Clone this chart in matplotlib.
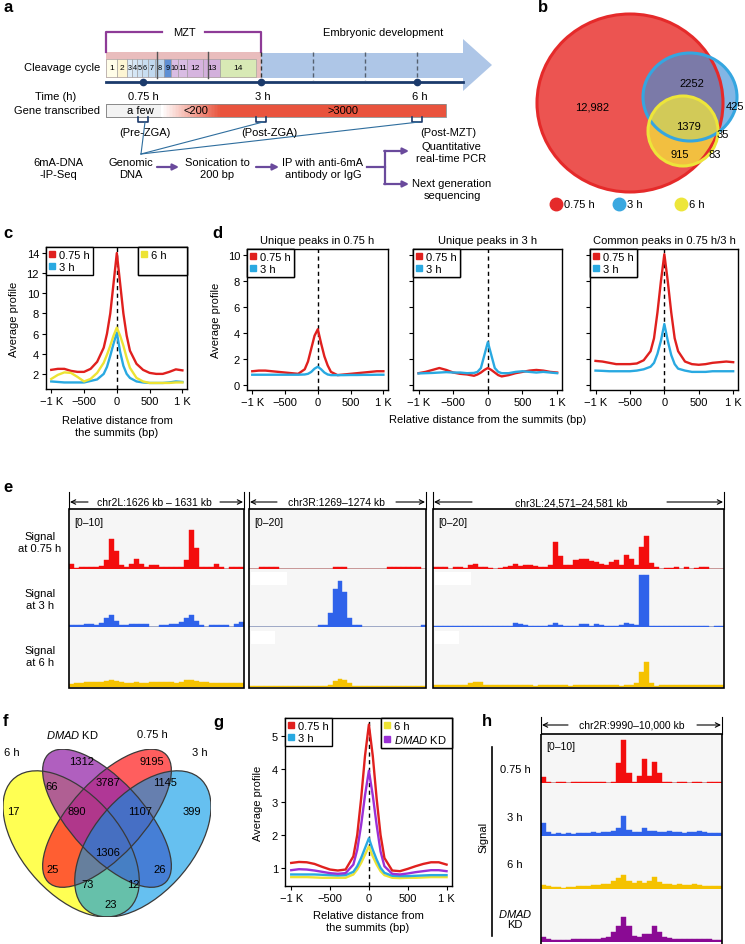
import numpy as np
import matplotlib
matplotlib.use('Agg')
import matplotlib.pyplot as plt
from matplotlib.patches import Rectangle, Ellipse, Polygon
from matplotlib.lines import Line2D

plt.rcParams['font.family'] = ['Liberation Sans', 'DejaVu Sans']
plt.rcParams['mathtext.fontset'] = 'custom'
plt.rcParams['mathtext.it'] = 'Liberation Sans:italic'
plt.rcParams['mathtext.rm'] = 'Liberation Sans'
plt.rcParams['font.size'] = 8

# ---------------------------------------------------------------- DATA
DIST = [-1000, -900, -800, -700, -600, -500, -400, -300, -200, -150, -100, -50, 0,
        50, 100, 150, 200, 300, 400, 500, 600, 700, 800, 900, 1000]
XTICKS = [-1000, -500, 0, 500, 1000]
XTICKLABELS = ['\u22121 K', '\u2212500', '0', '500', '1 K']

# panel c
C_075 = [2.4, 2.5, 2.5, 2.3, 2.2, 2.2, 2.5, 3.2, 4.6, 6.0, 8.0, 11.0, 14.0,
         11.0, 8.0, 5.8, 4.3, 3.0, 2.4, 2.1, 2.0, 2.0, 2.2, 2.45, 2.35]
C_3 = [1.25, 1.2, 1.15, 1.15, 1.15, 1.15, 1.3, 1.45, 2.0, 2.7, 3.8, 5.0, 6.1,
       4.2, 2.8, 2.0, 1.6, 1.25, 1.15, 1.1, 1.1, 1.1, 1.15, 1.25, 1.2]
C_6 = [1.5, 1.9, 2.15, 2.1, 1.7, 1.25, 1.5, 2.1, 3.1, 3.9, 4.8, 5.8, 6.6,
       5.8, 4.8, 3.6, 2.6, 1.6, 1.25, 1.1, 1.1, 1.1, 1.1, 1.15, 1.15]

# panel d
D_TITLES = ['Unique peaks in 0.75 h', 'Unique peaks in 3 h', 'Common peaks in 0.75 h/3 h']
D1_075 = [1.05, 1.1, 1.1, 1.05, 1.0, 0.95, 0.9, 0.85, 1.2, 1.8, 2.8, 3.8, 4.3,
          3.2, 2.2, 1.5, 1.0, 0.75, 0.8, 0.85, 0.9, 0.95, 1.0, 1.05, 1.05]
D1_3 = [0.78, 0.78, 0.78, 0.78, 0.78, 0.78, 0.78, 0.78, 0.8, 0.85, 1.0, 1.25, 1.4,
        1.2, 0.95, 0.8, 0.75, 0.75, 0.75, 0.76, 0.76, 0.77, 0.77, 0.78, 0.78]
D2_075 = [0.9, 1.0, 1.15, 1.3, 1.15, 0.95, 0.85, 0.8, 0.7, 0.8, 0.95, 1.15, 1.3,
          1.15, 0.95, 0.75, 0.65, 0.75, 0.9, 1.0, 1.1, 1.15, 1.1, 1.0, 0.95]
D2_3 = [0.88, 0.9, 0.92, 0.95, 0.98, 0.95, 0.95, 0.9, 0.92, 1.0, 1.3, 2.3, 3.3,
        2.3, 1.3, 1.0, 0.9, 0.9, 1.0, 1.05, 1.0, 0.95, 1.0, 0.95, 0.9]
D3_075 = [1.85, 1.8, 1.7, 1.6, 1.6, 1.6, 1.65, 1.9, 2.6, 3.6, 5.6, 8.0, 10.1,
          8.0, 5.6, 3.6, 2.6, 1.8, 1.6, 1.55, 1.6, 1.7, 1.75, 1.8, 1.75]
D3_3 = [1.1, 1.08, 1.05, 1.05, 1.05, 1.05, 1.1, 1.2, 1.4, 1.7, 2.4, 3.4, 4.7,
        3.4, 2.3, 1.6, 1.25, 1.1, 1.0, 1.0, 1.0, 1.05, 1.05, 1.05, 1.05]

# panel g
G_075 = [1.15, 1.18, 1.17, 1.12, 1.03, 0.95, 0.92, 0.95, 1.35, 2.0, 3.1, 4.4, 5.35,
         4.4, 3.1, 2.0, 1.3, 0.92, 0.9, 0.97, 1.05, 1.12, 1.17, 1.17, 1.1]
G_3 = [0.8, 0.8, 0.8, 0.8, 0.79, 0.78, 0.77, 0.78, 0.88, 1.05, 1.3, 1.6, 1.9,
       1.55, 1.25, 1.0, 0.85, 0.76, 0.75, 0.75, 0.76, 0.77, 0.78, 0.78, 0.78]
G_6 = [0.72, 0.72, 0.72, 0.71, 0.7, 0.7, 0.7, 0.7, 0.8, 0.95, 1.15, 1.4, 1.65,
       1.35, 1.1, 0.9, 0.78, 0.7, 0.69, 0.7, 0.7, 0.71, 0.72, 0.72, 0.72]
G_KD = [0.93, 0.96, 0.95, 0.92, 0.88, 0.84, 0.82, 0.84, 1.1, 1.55, 2.3, 3.2, 3.95,
        3.2, 2.3, 1.5, 1.05, 0.82, 0.8, 0.83, 0.87, 0.9, 0.93, 0.93, 0.9]

# panel b (3-set Venn)
B_SETS = ['0.75 h', '3 h', '6 h']
B_COUNTS = ['12,982', '2252', '425', '1379', '35', '915', '83']

# panel f (4-set Venn)
F_SETS = ['6 h', '$\\it{DMAD}$ KD', '0.75 h', '3 h']
F_COUNTS = ['1312', '9195', '66', '3787', '1145', '17', '890', '1107', '399',
            '1306', '25', '26', '73', '12', '23']

# panel a (schematic)
CYCLES = ['1', '2', '3', '4', '5', '6', '7', '8', '9', '10', '11', '12', '13', '14']
TIME_LABELS = ['0.75 h', '3 h', '6 h']
GENE_LABELS = ['a few', '<200', '>3000']
STAGE_LABELS = ['(Pre-ZGA)', '(Post-ZGA)', '(Post-MZT)']

# panel e tracks (binned signal)
E_REGIONS = ['chr2L:1626 kb \u2013 1631 kb', 'chr3R:1269\u20131274 kb', 'chr3L:24,571\u201324,581 kb']
E_RANGES = ['[0\u201310]', '[0\u201320]', '[0\u201320]']
E_TRACK_LABELS = ['Signal\nat 0.75 h', 'Signal\nat 3 h', 'Signal\nat 6 h']
E1_RED = [0.8, 0.1, 0.3, 0.3, 0.3, 0.3, 0.5, 1.5, 5.0, 3.0, 0.6, 0.3, 0.8, 1.6, 0.8, 0.3, 0.6, 0.6,
          0.3, 0.3, 0.3, 0.3, 0.3, 1.5, 6.5, 3.5, 0.4, 0.3, 0.4, 0.9, 0.4, 0.0, 0.3, 0.3, 0.3]
E1_BLUE = [0.4, 0.4, 0.3, 0.5, 0.5, 0.4, 0.7, 1.5, 2.0, 1.0, 0.4, 0.4, 0.5, 0.5, 0.5, 0.5, 0.0, 0.0,
           0.3, 0.3, 0.5, 0.5, 0.8, 1.5, 2.0, 1.0, 0.4, 0.0, 0.3, 0.3, 0.3, 0.3, 0.0, 0.5, 0.8]
E1_YEL = [0.5, 0.6, 0.7, 0.8, 0.9, 0.8, 0.8, 1.0, 1.2, 1.0, 0.8, 0.7, 0.7, 0.8, 0.7, 0.7, 0.8, 0.8,
          0.9, 0.8, 0.8, 0.7, 0.8, 1.1, 1.2, 1.0, 0.8, 0.8, 0.7, 0.7, 0.7, 0.6, 0.6, 0.6, 0.6]
E2_RED = [0, 0, 0.7, 0.7, 0.7, 0.7, 0, 0, 0, 0, 0, 0, 0, 0, 0, 0, 0, 0.7, 0.7, 0.7, 0, 0, 0, 0,
          0, 0, 0, 0, 0.7, 0.7, 0.7, 0.7, 0.7, 0.7, 0.7, 0]
E2_BLUE = [0, 0, 0, 0, 0, 0, 0, 0, 0, 0, 0, 0, 0, 0, 0.8, 0.8, 5.0, 13.0, 16.0, 12.0, 3.0, 0.8, 0.8, 0,
           0, 0, 0, 0, 0, 0, 0, 0, 0, 0, 0, 0.8]
E2_YEL = [0.5, 0.5, 0.5, 0.5, 0.5, 0.5, 0.3, 0.3, 0.5, 0.5, 0.5, 0.2, 0.2, 0.2, 0.5, 0.5, 0.8, 2.0,
          2.6, 2.3, 1.2, 0.5, 0.5, 0.5, 0.5, 0.5, 0.5, 0.5, 0.5, 0.5, 0.5, 0.5, 0.5, 0.5, 0.5, 0.5]
E3_RED = [0.6, 0.6, 0.6, 0.0, 0.6, 0.6, 0.3, 1.5, 1.8, 0.8, 0.6, 0.5, 0.0, 0.4, 0.6, 0.9, 1.8, 1.0,
          1.3, 1.2, 0.9, 0.6, 0.8, 1.5, 9.0, 4.5, 1.2, 1.5, 3.0, 3.2, 3.4, 2.6, 2.2, 1.6, 1.2, 2.5,
          3.0, 1.4, 4.8, 3.5, 1.5, 7.5, 11.0, 2.0, 0.7, 0.0, 0.5, 0.5, 0.6, 0.0, 0.6, 0.0, 0.5, 0.8,
          0.6, 0.0, 0.0, 0.0]
E3_BLUE = [0.3, 0.3, 0.3, 0.3, 0.3, 0.5, 0.3, 0.3, 0.3, 0.4, 0.3, 0.3, 0.5, 0.3, 0.3, 0.4, 1.5, 1.0,
           0.8, 0.4, 0.3, 0.3, 0.4, 0.8, 1.5, 0.8, 0.3, 0.3, 0.5, 1.2, 1.2, 0.5, 0.9, 0.7, 0.4, 0.5,
           0.4, 0.6, 1.5, 1.2, 0.8, 18.0, 18.0, 0.5, 0.3, 0.3, 0.3, 0.3, 0.3, 0.3, 0.3, 0.3, 0.3, 0.3,
           0.3, 0.0, 0.3, 0.5]
E3_YEL = [0.6, 0.6, 0.6, 0.6, 0.6, 0.6, 0.6, 1.3, 1.8, 1.6, 0.8, 0.6, 0.6, 0.6, 0.6, 0.6, 0.6, 0.6,
          0.6, 0.6, 0.2, 0.6, 0.6, 0.6, 0.6, 0.6, 0.6, 0.2, 0.6, 0.6, 0.6, 0.6, 0.6, 0.6, 0.6, 0.6,
          0.6, 0.2, 0.6, 0.6, 1.2, 5.0, 8.3, 1.5, 0.3, 0.6, 0.6, 0.6, 0.6, 0.6, 0.6, 0.6, 0.6, 0.6,
          0.6, 0.6, 0.6, 0.6]

# panel h tracks
H_REGION = 'chr2R:9990\u201310,000 kb'
H_RANGE = '[0\u201310]'
H_RED = [1.2, 0.3, 0.0, 0.2, 0.2, 0.0, 0.2, 0.2, 0.2, 0.2, 0.2, 0.2, 0.2, 0.0, 0.2, 4.0, 8.7, 2.0,
         0.3, 1.5, 5.0, 1.5, 4.3, 2.0, 0.3, 0.2, 0.0, 0.2, 0.2, 0.0, 0.2, 0.2, 0.0, 0.2, 0.2, 0.2]
H_BLUE = [2.5, 0.8, 0.4, 0.5, 0.4, 0.5, 0.4, 0.5, 0.6, 0.6, 0.7, 0.6, 0.7, 0.8, 0.9, 1.5, 3.8, 1.2,
          0.8, 0.7, 1.5, 0.9, 0.9, 0.8, 0.8, 0.9, 0.7, 0.8, 0.6, 0.7, 0.8, 1.0, 0.7, 0.6, 0.5, 0.6]
H_YEL = [0.8, 0.6, 0.4, 0.3, 0.2, 0.3, 0.4, 0.5, 0.5, 0.6, 0.7, 0.8, 0.9, 1.0, 1.5, 2.0, 2.6, 1.6,
         1.2, 1.5, 1.2, 1.6, 2.2, 1.3, 1.0, 0.9, 0.8, 1.0, 0.8, 0.7, 0.9, 0.7, 0.6, 0.6, 0.5, 0.5]
H_PUR = [1.0, 0.5, 0.4, 0.4, 0.3, 0.4, 0.5, 0.5, 0.5, 0.5, 0.6, 0.6, 0.7, 0.9, 1.8, 3.0, 4.7, 3.0,
         1.2, 1.0, 1.6, 1.5, 3.0, 1.8, 0.9, 0.7, 0.6, 0.6, 0.5, 0.6, 0.5, 0.6, 0.5, 0.5, 0.4, 0.4]
H_TRACK_LABELS = ['0.75 h', '3 h', '6 h', '$\\it{DMAD}$\nKD']

# ---------------------------------------------------------------- STYLE
RED = '#E0201E'
BLUE = '#29A9E1'
YEL = '#EDE334'
PUR = '#9B30D6'
T_RED, T_BLUE, T_YEL, T_PUR = '#F30D0D', '#2F62EA', '#F5C200', '#8A0A94'

W, H = 745, 945
fig = plt.figure(figsize=(W / 100, H / 100), dpi=100)


def pax(x0, y0, x1, y1, **kw):
    return fig.add_axes([x0 / W, 1 - y1 / H, (x1 - x0) / W, (y1 - y0) / H], **kw)


def style_profile(ax, ylim, yticks, ylabels=True):
    ax.set_xlim(-1080, 1070)
    ax.set_ylim(*ylim)
    ax.set_xticks(XTICKS)
    ax.set_xticklabels(XTICKLABELS)
    ax.set_yticks(yticks)
    if not ylabels:
        ax.set_yticklabels([])
    ax.tick_params(direction='out', length=3, width=0.8, labelsize=8, pad=2)
    for s in ax.spines.values():
        s.set_linewidth(1.0)
    ax.axvline(0, color='k', ls=(0, (3, 2.5)), lw=1.0, zorder=1)


def add_legend(ax, labels, colors, anchor, loc='upper left', expand=False, blank=False):
    handles = [Line2D([], [], marker='s', ls='none', color=c, markersize=4.5) for c in colors]
    labels = list(labels)
    if blank:
        handles.append(Line2D([], [], ls='none'))
        labels.append(' ')
    leg = ax.legend(handles, labels, loc=loc, bbox_to_anchor=anchor, borderaxespad=0,
                    frameon=True, fancybox=False, edgecolor='k', framealpha=1,
                    handlelength=0.5, handletextpad=0.35, labelspacing=0.15, borderpad=0.3,
                    fontsize=8, mode='expand' if expand else None)
    leg.get_frame().set_linewidth(1.0)
    ax.add_artist(leg)


def profile_lines(ax, series, colors):
    for s, c in zip(series, colors):
        ax.plot(DIST, s, color=c, lw=1.7, solid_joinstyle='round', zorder=3)


# ---------------------------------------------------------------- panel c
axc = pax(46, 248, 187, 390)
profile_lines(axc, [C_075, C_3, C_6], [RED, BLUE, YEL])
style_profile(axc, (0.5, 14.6), [2, 4, 6, 8, 10, 12, 14])
add_legend(axc, ['0.75 h', '3 h'], [RED, BLUE], (0, 1))
add_legend(axc, ['6 h'], [YEL], (0.652, 0, 0.348, 1), loc='upper right', expand=True, blank=True)

# ---------------------------------------------------------------- panel d
d_boxes = [(247, 388), (413, 562), (590, 738)]
d_series = [(D1_075, D1_3), (D2_075, D2_3), (D3_075, D3_3)]
for i, ((x0, x1), (r, b)) in enumerate(zip(d_boxes, d_series)):
    ax = pax(x0, 250, x1, 391)
    profile_lines(ax, [r, b], [RED, BLUE])
    style_profile(ax, (-0.4, 10.5), [0, 2, 4, 6, 8, 10], ylabels=(i == 0))
    ax.set_title(D_TITLES[i], fontsize=8, pad=4)
    add_legend(ax, ['0.75 h', '3 h'], [RED, BLUE], (0, 1))

# ---------------------------------------------------------------- panel g
axg = pax(285, 719, 452, 887)
profile_lines(axg, [G_6, G_3, G_KD, G_075], [YEL, BLUE, PUR, RED])
style_profile(axg, (0.45, 5.55), [1, 2, 3, 4, 5])
add_legend(axg, ['0.75 h', '3 h'], [RED, BLUE], (0, 1))
add_legend(axg, ['6 h', '$\\it{DMAD}$ KD'], [YEL, PUR], (0.575, 0, 0.425, 1), loc='upper right',
           expand=True)

# ---------------------------------------------------------------- panel b
axb = pax(530, 8, 745, 200)
axb.set_xlim(530, 745)
axb.set_ylim(200, 8)
axb.axis('off')
b_geo = [((630, 104), 186, 178), ((690, 98), 94, 88), ((683, 132), 70, 70)]
b_face = ['#EC5451', '#3F8FD8', '#F5EA3A']
b_alpha = [1.0, 0.65, 0.72]
b_edge = ['#E52A2A', '#35A6E0', '#EDE53A']
for (c, w, h), fc, a in zip(b_geo, b_face, b_alpha):
    axb.add_patch(Ellipse(c, w, h, fc=fc, ec='none', alpha=a))
for (c, w, h), ec in zip(b_geo, b_edge):
    axb.add_patch(Ellipse(c, w, h, fill=False, ec=ec, lw=2.2))

# ---------------------------------------------------------------- panel f
axf = pax(3, 750, 211, 918)
axf.set_xlim(0.065, 0.935)
axf.set_ylim(0.185, 0.84)
axf.axis('off')
# geometry order: 6 h, DMAD KD, 0.75 h, 3 h
f_geo = [((0.35, 0.47), 0.70, 0.40, 135), ((0.5, 0.57), 0.70, 0.30, 135),
         ((0.5, 0.57), 0.70, 0.30, 45), ((0.65, 0.47), 0.70, 0.40, 45)]
f_face = ['#FFFF28', '#962AAA', '#FF2828', '#0096E6']
f_alpha = [0.8, 0.75, 0.75, 0.6]
for idx in (0, 2, 1, 3):
    c, w, h, ang = f_geo[idx]
    axf.add_patch(Ellipse(c, w, h, angle=ang, fc=f_face[idx], ec='none', alpha=f_alpha[idx]))
for (c, w, h, ang) in f_geo:
    axf.add_patch(Ellipse(c, w, h, angle=ang, fill=False, ec='#3A3A3A', lw=0.9))


# ---------------------------------------------------------------- tracks
def track_stack(x0, x1, rows, series, colors, ymax):
    for (ya, yb), d, c in zip(rows, series, colors):
        ax = pax(x0, ya, x1, yb)
        ax.set_facecolor('#F6F6F6')
        ax.bar(np.arange(len(d)), d, width=1.0, align='edge', color=c, edgecolor=c, linewidth=0.3,
               zorder=3)
        ax.axhline(0, color='#BDBDBD', lw=1.4, zorder=2)
        ax.set_xlim(0, len(d))
        ax.set_ylim(0, ymax)
        ax.set_xticks([])
        ax.set_yticks([])
        for s in ax.spines.values():
            s.set_visible(False)


e_rows = [(510, 570), (570, 628), (628, 688)]
e_boxes = [(69, 244), (249, 426), (433, 724)]
e_series = [(E1_RED, E1_BLUE, E1_YEL), (E2_RED, E2_BLUE, E2_YEL), (E3_RED, E3_BLUE, E3_YEL)]
e_max = [10, 20, 20]
for (x0, x1), ser, m in zip(e_boxes, e_series, e_max):
    track_stack(x0, x1, e_rows, ser, [T_RED, T_BLUE, T_YEL], m)

h_rows = [(735, 784), (784, 837), (837, 890), (890, 943)]
track_stack(541, 722, h_rows, [H_RED, H_BLUE, H_YEL, H_PUR], [T_RED, T_BLUE, T_YEL, T_PUR], 10)

# ---------------------------------------------------------------- overlay (schematic, labels)
ov = fig.add_axes([0, 0, 1, 1], zorder=10)
ov.set_xlim(0, W)
ov.set_ylim(H, 0)
ov.axis('off')

# panel letters
for t, (x, y) in zip('abcdefgh', [(3, 8), (538, 8), (3, 234), (212, 234), (3, 487), (3, 722),
                                  (213, 722), (482, 722)]):
    ov.text(x, y, t, fontsize=12, fontweight='bold', ha='left', va='center')

# --- panel a
NAVY = '#1B3A6B'
PURP = '#8E3B97'
ov.plot([106, 106, 162], [53, 33, 33], color=PURP, lw=1.6)
ov.plot([205, 261, 261], [33, 33, 53], color=PURP, lw=1.6)
ov.text(184, 33, 'MZT', ha='center', va='center', fontsize=8)
ov.text(383, 33, 'Embryonic development', ha='center', va='center', fontsize=8)
ov.add_patch(Polygon([(261, 54), (463, 54), (463, 40), (492, 66), (463, 92), (463, 79), (261, 79)],
                     closed=True, fc='#AEC6E7', ec='none'))
ov.add_patch(Rectangle((106, 53), 155, 26, fc='#E9BDBD', ec='none'))
bounds = [106, 116.7, 126.7, 132, 137, 142.3, 148, 155.3, 164, 171.3, 178, 187.3, 203.3, 220, 256]
cell_cols = ['#FFFDE8', '#FDF5D3', '#DDEBF7', '#D5E6F5', '#CFE2F3', '#C8DEF1', '#C1D9EF', '#BAD4ED',
             '#5E8FD4', '#D9BCE3', '#D9BCE3', '#D6B4DF', '#D3B0DC', '#D8E9B5']
for i, lab in enumerate(CYCLES):
    xa, xb = bounds[i], bounds[i + 1]
    ov.add_patch(Rectangle((xa, 59.5), xb - xa, 18, fc=cell_cols[i], ec='#9A9A9A', lw=0.4))
    fs = 6.0 if (xb - xa) > 9 else 5.2
    ov.text((xa + xb) / 2, 68.5, lab, ha='center', va='center', fontsize=fs)
for x in (157, 208):
    ov.plot([x, x], [53, 79], color='#555555', lw=1.0)
for x, c in zip((261, 313, 365, 417), ('#333333', '#556070', '#556070', '#556070')):
    ov.plot([x, x], [53, 81], color=c, lw=1.0, ls=(0, (3, 2)))
ov.plot([106, 463], [83, 83], color=NAVY, lw=2.0)
tx = [143, 261, 417]
ov.plot(tx, [83] * 3, 'o', color=NAVY, ms=4.5)
ov.text(100, 68, 'Cleavage cycle', ha='right', va='center', fontsize=8)
ov.text(56, 97, 'Time (h)', ha='center', va='center', fontsize=8)
for x, lab in zip([143, 263, 420], TIME_LABELS):
    ov.text(x, 97, lab, ha='center', va='center', fontsize=8)
ov.text(100, 111.5, 'Gene transcribed', ha='right', va='center', fontsize=8)
ov.add_patch(Rectangle((106, 105), 55, 13, fc='#F3F3F3', ec='#8A8A8A', lw=0.6))
n = 40
for k in range(n):
    f = k / (n - 1)
    col = (1 - f * (1 - 0.91), 1 - f * (1 - 0.33), 1 - f * (1 - 0.24))
    ov.add_patch(Rectangle((161 + 60 * k / n, 105), 60 / n + 0.2, 13, fc=col, ec='none'))
ov.add_patch(Rectangle((221, 105), 225, 13, fc='#E9533D', ec='none'))
ov.add_patch(Rectangle((106, 105), 340, 13, fill=False, ec='#8A8A8A', lw=0.6))
for x, lab in zip([140, 196, 343], GENE_LABELS):
    ov.text(x, 111.5, lab, ha='center', va='center', fontsize=8)
for x in tx:
    ov.plot([x - 5, x - 5, x + 5, x + 5], [118, 123, 123, 118], color=NAVY, lw=1.2)
for x, lab in zip([145, 269, 448], STAGE_LABELS):
    ov.text(x, 133, lab, ha='center', va='center', fontsize=8)
for x in tx:
    ov.plot([141, x + 2], [155, 123], color='#2F6E9E', lw=0.8)
ov.text(58, 169, '6mA-DNA\n-IP-Seq', ha='center', va='center', fontsize=8, linespacing=1.25)
ov.text(131, 169, 'Genomic\nDNA', ha='center', va='center', fontsize=8, linespacing=1.25)
ov.text(217, 169, 'Sonication to\n200 bp', ha='center', va='center', fontsize=8, linespacing=1.25)
ov.text(323, 169, 'IP with anti-6mA\nantibody or IgG', ha='center', va='center', fontsize=8,
        linespacing=1.25)
AR = '#6A4A9C'
for xa, xb in ((157, 179), (256, 279)):
    ov.annotate('', xy=(xb, 168), xytext=(xa, 168),
                arrowprops=dict(arrowstyle='-|>', color=AR, lw=1.6, mutation_scale=9,
                                shrinkA=0, shrinkB=0))
ov.plot([367, 385], [168, 168], color=AR, lw=1.6)
ov.plot([385, 385], [152, 185], color=AR, lw=1.6)
for y in (152, 185):
    ov.annotate('', xy=(409, y), xytext=(384.2, y),
                arrowprops=dict(arrowstyle='-|>', color=AR, lw=1.6, mutation_scale=9,
                                shrinkA=0, shrinkB=0))
ov.text(451, 153, 'Quantitative\nreal-time PCR', ha='center', va='center', fontsize=8,
        linespacing=1.25)
ov.text(452, 190, 'Next generation\nsequencing', ha='center', va='center', fontsize=8,
        linespacing=1.25)

# --- panel b texts
b_pos = [(592, 107), (692, 84), (744, 107), (688, 127), (723, 135), (680, 155), (715, 155)]
b_ha = ['center', 'center', 'right', 'center', 'center', 'center', 'center']
for lab, (x, y), ha in zip(B_COUNTS, b_pos, b_ha):
    ov.text(x, y, lab, ha=ha, va='center', fontsize=8)
for lab, x, c in zip(B_SETS, [556, 619, 681], ['#E52A2A', '#3AA8E0', '#EDE63A']):
    ov.plot([x], [205], 'o', color=c, ms=9)
    ov.text(x + 8, 205, lab, ha='left', va='center', fontsize=8)

# --- axis labels for c, d, g
ov.text(14, 319, 'Average profile', rotation=90, ha='center', va='center', fontsize=8)
ov.text(117, 427, 'Relative distance from\nthe summits (bp)', ha='center', va='center',
        fontsize=8, linespacing=1.25)
ov.text(216, 320, 'Average profile', rotation=90, ha='center', va='center', fontsize=8)
ov.text(488, 420, 'Relative distance from the summits (bp)', ha='center', va='center', fontsize=8)
ov.text(258, 803, 'Average profile', rotation=90, ha='center', va='center', fontsize=8)
ov.text(368, 922, 'Relative distance from\nthe summits (bp)', ha='center', va='center',
        fontsize=8, linespacing=1.25)

# --- panel e frames and labels
arrow_kw = dict(arrowstyle='->', lw=0.8, color='k', shrinkA=0, shrinkB=0, mutation_scale=8)
e_text_x = [154, 336, 571]
e_gaps = [(88, 220), (277, 396), (472, 667)]
for (x0, x1), lab, tx0, (ga, gb), rng in zip(e_boxes, E_REGIONS, e_text_x, e_gaps, E_RANGES):
    ov.add_patch(Rectangle((x0, 510), x1 - x0, 179, fill=False, ec='k', lw=1.2))
    ov.annotate('', xy=(x0 + 1, 503), xytext=(ga, 503), arrowprops=arrow_kw)
    ov.annotate('', xy=(x1 - 1, 503), xytext=(gb, 503), arrowprops=arrow_kw)
    ov.plot([x0, x0], [493, 510], color='k', lw=0.8)
    ov.plot([x1, x1], [493, 510], color='k', lw=0.8)
    ov.text(tx0, 503, lab, ha='center', va='center', fontsize=7.5)
    ov.text(x0 + 5, 523, rng, ha='left', va='center', fontsize=7.5)
for (x0, x1) in e_boxes[1:]:
    ov.add_patch(Rectangle((x0 + 2, 573), 36, 13, fc='white', ec='none'))
    ov.add_patch(Rectangle((x0 + 2, 632), 24, 13, fc='white', ec='none'))
for lab, y in zip(E_TRACK_LABELS, [543, 600, 657]):
    ov.text(40, y, lab, ha='center', va='center', fontsize=8, linespacing=1.3)

# --- panel f labels
for lab, (x, y) in zip(F_SETS, [(12, 753), (72, 735), (152, 735), (200, 753)]):
    ov.text(x, y, lab, ha='center', va='center', fontsize=8)
f_pos = [(82, 762), (152, 762), (52, 787), (108, 783), (165, 783), (13, 812), (77, 812),
         (140, 812), (192, 812), (108, 853), (53, 870), (160, 870), (88, 885), (133, 885),
         (111, 905)]
for lab, (x, y) in zip(F_COUNTS, f_pos):
    ov.text(x, y, lab, ha='center', va='center', fontsize=8)

# --- panel h frame and labels
ov.add_patch(Rectangle((541, 735), 181, 215, fill=False, ec='k', lw=1.2))
ov.annotate('', xy=(542, 726), xytext=(568, 726), arrowprops=arrow_kw)
ov.annotate('', xy=(721, 726), xytext=(697, 726), arrowprops=arrow_kw)
ov.plot([541, 541], [718, 735], color='k', lw=0.8)
ov.plot([722, 722], [718, 735], color='k', lw=0.8)
ov.text(632, 726, H_REGION, ha='center', va='center', fontsize=7.5)
ov.text(546, 747, H_RANGE, ha='left', va='center', fontsize=7.5)
for lab, y in zip(H_TRACK_LABELS, [770, 818, 865, 919]):
    ov.text(515, y, lab, ha='center', va='center', fontsize=8, linespacing=1.1)
ov.plot([492, 492], [748, 937], color='k', lw=1.2)
ov.text(483, 837, 'Signal', rotation=90, ha='center', va='center', fontsize=8)

fig.savefig('out.png', dpi=100)
